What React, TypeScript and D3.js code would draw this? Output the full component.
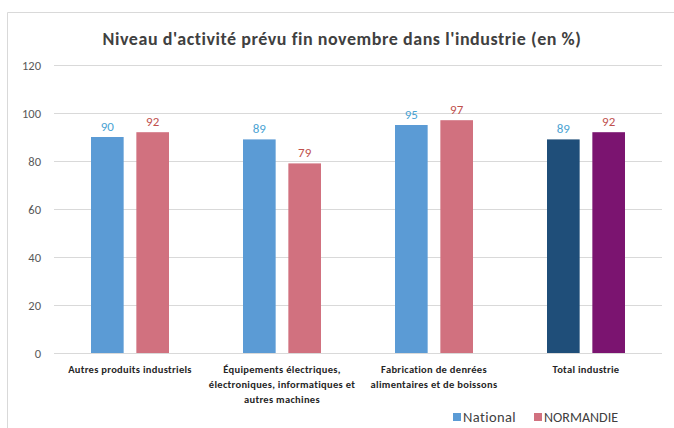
import React from 'react';
import * as d3 from 'd3';

const CATEGORIES = [
  ['Autres produits industriels'],
  ['Équipements électriques,', 'électroniques, informatiques et', 'autres machines'],
  ['Fabrication de denrées', 'alimentaires et de boissons'],
  ['Total industrie'],
];
const NATIONAL = [90, 89, 95, 89];
const NORMANDIE = [92, 79, 97, 92];
const Y_TICKS = [0, 20, 40, 60, 80, 100, 120];
const SERIES = ['National', 'NORMANDIE'];

const FONT = "Carlito, Lato, 'Open Sans', sans-serif";

export default function App() {
  const W = 674, H = 428;
  const m = { l: 54, r: 12, t: 65, b: 75 };
  const x0 = d3.scaleBand<number>().domain(d3.range(CATEGORIES.length)).range([m.l, W - m.r]);
  const x1 = d3.scaleBand<string>().domain(SERIES).range([0, 78]).paddingInner(0.28);
  const y = d3.scaleLinear().domain([0, 120]).range([H - m.b, m.t]);

  const fill = (s: string, i: number) => {
    const total = i === CATEGORIES.length - 1;
    if (s === 'National') return total ? '#1F4E79' : '#5B9BD5';
    return total ? '#7B1470' : '#D1717F';
  };

  return (
    <svg width={W} height={H} style={{ position: 'absolute', left: 0, top: 0, background: '#fff' }} fontFamily={FONT}>
      {/* frame */}
      <path d={`M7.5,${H} V12.5 H${W}`} fill="none" stroke="#d9d9d9" strokeWidth={1} />
      <text x={342} y={45} textAnchor="middle" fontSize={18} fontWeight="bold" letterSpacing={0.55} fill="#404040">
        Niveau d'activité prévu fin novembre dans l'industrie (en %)
      </text>

      {/* grid + y ticks */}
      {Y_TICKS.map(t => (
        <g key={t}>
          <line x1={m.l} x2={W - m.r} y1={y(t) + 0.5} y2={y(t) + 0.5} stroke="#d9d9d9" />
          <text x={41} y={y(t) + 4.5} textAnchor="end" fontSize={12.5} fill="#595959">{t}</text>
        </g>
      ))}

      {/* bars */}
      {CATEGORIES.map((c, i) => {
        const gx = x0(i)! + x0.bandwidth() / 2 - 39;
        return (
          <g key={i} transform={`translate(${gx},0)`}>
            {SERIES.map(s => {
              const v = s === 'National' ? NATIONAL[i] : NORMANDIE[i];
              const bx = x1(s)!;
              return (
                <g key={s}>
                  <rect x={bx} y={y(v)} width={x1.bandwidth()} height={y(0) - y(v)} fill={fill(s, i)} />
                  <text x={bx + x1.bandwidth() / 2} y={y(v) - 6} textAnchor="middle" fontSize={13}
                    fill={s === 'National' ? '#4AA3D3' : '#C0504D'}>{v}</text>
                </g>
              );
            })}
          </g>
        );
      })}

      {/* category labels */}
      {CATEGORIES.map((lines, i) => (
        <text key={i} x={x0(i)! + x0.bandwidth() / 2} textAnchor="middle" fontSize={10.5} letterSpacing={0.3} fontWeight="bold" fill="#262626">
          {lines.map((l, j) => (
            <tspan key={j} x={x0(i)! + x0.bandwidth() / 2} y={373 + j * 15}>{l}</tspan>
          ))}
        </text>
      ))}

      {/* legend */}
      <rect x={453} y={413} width={8} height={8} fill="#5B9BD5" />
      <text x={463} y={422} fontSize={14.5} letterSpacing={0.4} fill="#404040">National</text>
      <rect x={534} y={413} width={8} height={8} fill="#D1717F" />
      <text x={544} y={422} fontSize={14} letterSpacing={0} fill="#404040">NORMANDIE</text>
    </svg>
  );
}
